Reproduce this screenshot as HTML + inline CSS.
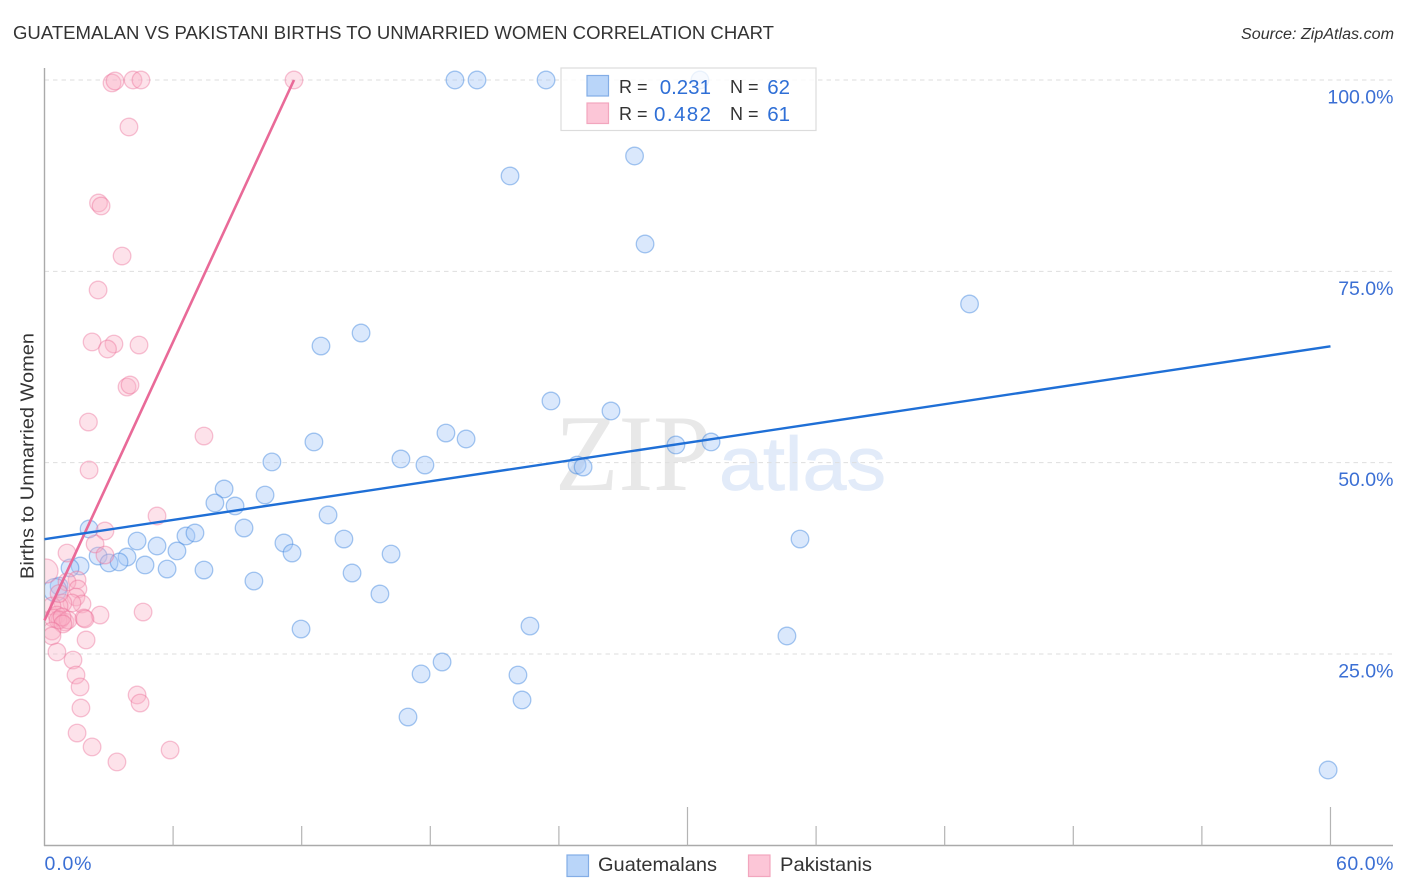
<!DOCTYPE html>
<html lang="en">
<head>
<meta charset="utf-8">
<title>Guatemalan vs Pakistani Births to Unmarried Women Correlation Chart</title>
<style>
html,body{margin:0;padding:0;background:#fff;}
#chart{display:block;width:1406px;height:892px;font-family:"Liberation Sans",sans-serif;}
</style>
</head>
<body>
<svg id="chart" xmlns="http://www.w3.org/2000/svg" width="1406" height="892" viewBox="0 0 1406 892">
  <defs><clipPath id="plot-clip"><rect x="45" y="60" width="1349" height="785"></rect></clipPath></defs>
  <rect x="0" y="0" width="1406" height="892" fill="#fff"></rect>
  <text x="13" y="39" font-size="18.5" fill="#333" textLength="761" lengthAdjust="spacingAndGlyphs">GUATEMALAN VS PAKISTANI BIRTHS TO UNMARRIED WOMEN CORRELATION CHART</text>
  <text x="1241" y="39" font-size="15.5" font-style="italic" fill="#333" textLength="153" lengthAdjust="spacingAndGlyphs">Source: ZipAtlas.com</text>
  <text x="555" y="490" font-family="'Liberation Serif',serif" font-size="109" fill="#e8e8e8" textLength="156" lengthAdjust="spacingAndGlyphs">ZIP</text>
  <text x="719" y="490" font-size="76" fill="#e2ebf9" stroke="#e2ebf9" stroke-width="0.8" textLength="167" lengthAdjust="spacingAndGlyphs">atlas</text>
  <g id="grid"></g>
  <g id="axes"></g>
  <g id="marks" clip-path="url(#plot-clip)"></g>
  <g id="trends"></g>
  <text transform="translate(33.5,456) rotate(-90)" font-size="18.5" fill="#333" text-anchor="middle" textLength="246" lengthAdjust="spacingAndGlyphs">Births to Unmarried Women</text>

  <g>
    <rect x="561" y="68" width="255" height="62.5" fill="#fff" fill-opacity="0.78" stroke="#dcdcdc" stroke-width="1.2"></rect>
    <rect x="587" y="75.5" width="21.5" height="20.5" fill="#b9d5f9" stroke="#83ade6" stroke-width="1.2"></rect>
    <rect x="587" y="103" width="21.5" height="20.5" fill="#fcc6d7" stroke="#f2a6be" stroke-width="1.2"></rect>
    <text x="619" y="93" font-size="18" fill="#333">R =</text>
    <text x="711" y="94" font-size="20.5" fill="#2f6fd6" text-anchor="end">0.231</text>
    <text x="730" y="93" font-size="18" fill="#333">N =</text>
    <text x="790" y="94" font-size="20.5" fill="#2f6fd6" text-anchor="end">62</text>
    <text x="619" y="120" font-size="18" fill="#333">R =</text>
    <text x="654" y="121" font-size="20.5" fill="#2f6fd6" textLength="57" lengthAdjust="spacing">0.482</text>
    <text x="730" y="120" font-size="18" fill="#333">N =</text>
    <text x="790" y="121" font-size="20.5" fill="#2f6fd6" text-anchor="end">61</text>
  </g>

  <g>
    <rect x="567" y="855" width="21.5" height="21.5" fill="#b9d5f9" stroke="#83ade6" stroke-width="1.2"></rect>
    <text x="598" y="871" font-size="19.5" fill="#333" textLength="119" lengthAdjust="spacingAndGlyphs">Guatemalans</text>
    <rect x="748.5" y="855" width="21.5" height="21.5" fill="#fcc6d7" stroke="#f2a6be" stroke-width="1.2"></rect>
    <text x="780" y="871" font-size="19.5" fill="#333" textLength="92" lengthAdjust="spacingAndGlyphs">Pakistanis</text>
  </g>
</svg>
<script>
const yTickValues = [100, 75, 50, 25];
const yTickLabels = ["100.0%", "75.0%", "50.0%", "25.0%"];
const xTickValues = [0, 6, 12, 18, 24, 30, 36, 42, 48, 54, 60];
const xMajorTicks = [30, 60];
const xEndLabels = ["0.0%", "60.0%"];

const guatemalanX = [19.15,20.18,23.40,30.58,27.53,21.72,28.02,43.16,12.90,14.77,23.63,26.43,18.73,19.67,12.57,16.63,17.75,10.61,24.85,25.13,29.46,31.10,8.38,7.95,10.29,8.89,9.31,13.23,6.60,7.02,13.97,11.17,11.55,16.17,35.25,2.08,4.32,5.25,6.18,3.85,2.50,3.01,3.48,4.69,5.72,7.44,9.77,14.35,15.65,1.66,1.19,0.68,0.49,11.97,22.65,34.64,17.57,18.55,22.09,22.28,16.96,59.89];
const guatemalanY = [100,100,100,100,90.07,87.46,78.57,70.73,65.24,66.94,58.06,56.75,53.87,53.09,52.70,50.48,49.69,50.09,49.69,49.43,52.31,52.70,46.56,44.73,45.77,44.34,41.46,43.16,40.42,40.81,40.02,39.50,38.19,38.06,40.02,41.33,39.76,39.11,38.46,37.67,37.80,36.89,37.02,36.63,36.10,35.97,34.53,35.58,32.84,36.50,36.24,33.88,33.36,28.26,28.65,27.35,22.39,23.95,22.25,18.99,16.76,9.84];
const guatemalanLargeIndex = [52];

const pakistaniX = [11.64,3.15,3.29,4.13,4.50,3.94,2.52,2.64,3.62,2.50,2.22,3.24,4.41,2.94,3.85,3.99,2.05,7.44,2.08,5.25,2.82,2.36,2.82,1.05,0.07,1.52,1.05,1.56,1.47,1.75,1.28,0.86,0.68,0.35,0.58,0.72,0.40,0.96,0.63,1.10,0.82,2.59,1.84,1.89,4.60,1.94,0.86,0.35,0.35,0.58,1.33,1.47,1.66,4.32,4.46,1.70,1.52,2.22,3.38,5.86,0.68];
const pakistaniY = [100,99.61,99.87,100,100,93.86,83.93,83.54,77.00,72.56,65.77,65.50,65.37,64.85,59.88,60.15,55.31,53.48,49.04,43.03,41.07,39.37,37.93,38.19,35.84,34.67,34.41,33.49,32.44,31.53,31.66,31.66,31.27,31.27,30.09,29.44,29.70,29.18,29.44,29.44,29.83,30.09,29.70,29.57,30.48,26.83,28.92,28.00,27.35,25.26,24.21,22.25,20.69,19.64,18.59,17.94,14.67,12.85,10.89,12.45,32.90];
const pakistaniLargeIndex = [24];

const guatemalanTrendX = [0, 60];
const guatemalanTrendY = [40.0, 65.2];
const pakistaniTrendX = [0, 11.64];
const pakistaniTrendY = [29.4, 100];

const SVGNS = "http://www.w3.org/2000/svg";
function xScale(v){ return 44.5 + v * 21.433; }
function yScale(v){ return 80 + (100 - v) * 7.653; }
function make(tag, attrs, parent){
  const el = document.createElementNS(SVGNS, tag);
  for (const k in attrs) el.setAttribute(k, attrs[k]);
  parent.appendChild(el);
  return el;
}

const gridG = document.getElementById("grid");
const axesG = document.getElementById("axes");
const marksG = document.getElementById("marks");
const trendsG = document.getElementById("trends");

yTickValues.forEach(function(v, i){
  const line = make("line", {x1:44.5, x2:1393, y1:yScale(v), y2:yScale(v), stroke:"#dedede", "stroke-width":1, "stroke-dasharray":"4.5 4"}, gridG);
  
  
  const label = make("text", {x:1393.5, y:yScale(v) + 23.5, "font-size":19.5, fill:"#3b6fd4", "text-anchor":"end"}, axesG);
  label.textContent = yTickLabels[i];
  
  
});

const yAxisLine = make("line", {x1:44.5, x2:44.5, y1:68, y2:846, stroke:"#aaa", "stroke-width":1.4}, axesG);


const xAxisLine = make("line", {x1:44, x2:1393, y1:845.5, y2:845.5, stroke:"#aaa", "stroke-width":1.4}, axesG);



xTickValues.forEach(function(v){
  if (v === 0) return;
  const isMajor = xMajorTicks.indexOf(v) !== -1;
  const tick = make("line", {x1:xScale(v), x2:xScale(v), y1:isMajor ? 807 : 826, y2:845.5, stroke:"#b4b4b4", "stroke-width":1.2}, axesG);
  
  
});

const xLabelLeft = make("text", {x:xScale(0), y:870, "font-size":19.5, fill:"#3b6fd4", textLength:47, lengthAdjust:"spacing"}, axesG);
xLabelLeft.textContent = xEndLabels[0];


const xLabelRight = make("text", {x:1336, y:870, "font-size":19.5, fill:"#3b6fd4", textLength:57.5, lengthAdjust:"spacing"}, axesG);
xLabelRight.textContent = xEndLabels[1];



guatemalanX.forEach(function(v, i){
  const big = guatemalanLargeIndex.indexOf(i) !== -1;
  const c = make("circle", {cx:xScale(v), cy:yScale(guatemalanY[i]), r:big ? 11.5 : 8.8, fill:"#a8c9f7", "fill-opacity":0.42, stroke:"#3f86de", "stroke-opacity":0.45, "stroke-width":1.3}, marksG);
  
  
});

pakistaniX.forEach(function(v, i){
  const big = pakistaniLargeIndex.indexOf(i) !== -1;
  const c = make("circle", {cx:xScale(v), cy:yScale(pakistaniY[i]), r:big ? 12 : 8.8, fill:"#f9b0c6", "fill-opacity":0.36, stroke:"#ea6c95", "stroke-opacity":0.4, "stroke-width":1.3}, marksG);
  
  
});

const pakTrend = make("line", {x1:xScale(pakistaniTrendX[0]), y1:yScale(pakistaniTrendY[0]), x2:xScale(pakistaniTrendX[1]), y2:yScale(pakistaniTrendY[1]), stroke:"#e96a98", "stroke-width":2.6}, trendsG);


const guaTrend = make("line", {x1:xScale(guatemalanTrendX[0]), y1:yScale(guatemalanTrendY[0]), x2:xScale(guatemalanTrendX[1]), y2:yScale(guatemalanTrendY[1]), stroke:"#1f6fd6", "stroke-width":2.4}, trendsG);


</script>
</body>
</html>
